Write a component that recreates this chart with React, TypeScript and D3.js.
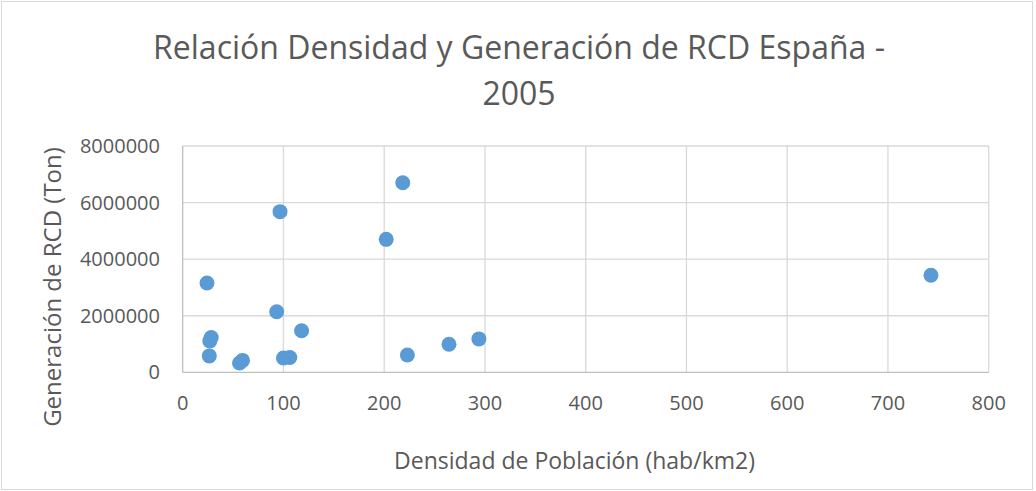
import { useRef, useEffect } from 'react';
import * as d3 from 'd3';

const W = 1036;
const H = 491;
const PLOT = { left: 182.7, right: 988.7, top: 146, bottom: 372.3 };

const TITLE_LINES = ['Relación Densidad y Generación de RCD España -', '2005'];
const X_LABEL = 'Densidad de Población (hab/km2)';
const Y_LABEL = 'Generación de RCD (Ton)';

// densidad (hab/km2) y generación (t) por comunidad
const densidad = [24.1, 93.3, 118, 26.9, 28.3, 26.4, 56.4, 59.4, 100, 106.3, 96.6, 218.4, 202, 223, 264.3, 294, 742.7];
const generacion = [3156000, 2140000, 1470000, 1110000, 1230000, 580000, 330000, 420000, 505000, 523000, 5680000, 6700000, 4700000, 610000, 990000, 1180000, 3430000];

const xTicks = [0, 100, 200, 300, 400, 500, 600, 700, 800];
const yTicks = [0, 2000000, 4000000, 6000000, 8000000];

const FONT = '"Open Sans", "Noto Sans", sans-serif';
const TEXT = '#595959';

export default function App() {
  const svgRef = useRef<SVGSVGElement>(null);

  useEffect(() => {
    if (!svgRef.current) return;
    const svg = d3.select(svgRef.current);
    svg.selectAll('*').remove();

    const x = d3.scaleLinear().domain([0, 800]).range([PLOT.left, PLOT.right]);
    const y = d3.scaleLinear().domain([0, 8000000]).range([PLOT.bottom, PLOT.top]);

    svg.append('rect')
      .attr('x', 0).attr('y', 0).attr('width', W).attr('height', H).attr('fill', '#fff');
    svg.append('rect')
      .attr('x', 1.5).attr('y', 1.5).attr('width', 1031).attr('height', 488)
      .attr('fill', 'none').attr('stroke', '#d9d9d9');

    // Grid
    const grid = svg.append('g').attr('stroke', '#d9d9d9').attr('stroke-width', 1.3);
    xTicks.slice(1).forEach(t => {
      grid.append('line').attr('x1', x(t)).attr('x2', x(t)).attr('y1', PLOT.top).attr('y2', PLOT.bottom);
    });
    yTicks.slice(1).forEach(t => {
      grid.append('line').attr('x1', PLOT.left).attr('x2', PLOT.right).attr('y1', y(t)).attr('y2', y(t));
    });

    // Axis lines
    svg.append('line').attr('x1', PLOT.left).attr('x2', PLOT.right).attr('y1', PLOT.bottom).attr('y2', PLOT.bottom)
      .attr('stroke', '#bfbfbf').attr('stroke-width', 1.3);
    svg.append('line').attr('x1', PLOT.left).attr('x2', PLOT.left).attr('y1', PLOT.top).attr('y2', PLOT.bottom)
      .attr('stroke', '#bfbfbf').attr('stroke-width', 1.3);

    // Tick labels
    svg.append('g').selectAll('text').data(xTicks).join('text')
      .attr('x', d => x(d)).attr('y', 410)
      .attr('text-anchor', 'middle')
      .attr('fill', TEXT).style('font-family', FONT).style('font-size', '20px')
      .text(d => d);
    svg.append('g').selectAll('text').data(yTicks).join('text')
      .attr('x', 160).attr('y', d => y(d) + 7)
      .attr('text-anchor', 'end')
      .attr('fill', TEXT).style('font-family', FONT).style('font-size', '20px')
      .text(d => d);

    // Points
    svg.append('g').selectAll('circle').data(densidad).join('circle')
      .attr('cx', d => x(d)).attr('cy', (_, i) => y(generacion[i]))
      .attr('r', 7.5).attr('fill', '#5b9bd5');

    // Title
    TITLE_LINES.forEach((line, i) => {
      svg.append('text')
        .attr('x', 519).attr('y', 59 + i * 46)
        .attr('text-anchor', 'middle')
        .attr('fill', TEXT).style('font-family', FONT).style('font-size', '32px')
        .text(line);
    });

    // Axis titles
    svg.append('text')
      .attr('x', 574.5).attr('y', 469)
      .attr('text-anchor', 'middle')
      .attr('fill', TEXT).style('font-family', FONT).style('font-size', '23px')
      .text(X_LABEL);
    svg.append('text')
      .attr('transform', `translate(61,287) rotate(-90)`)
      .attr('text-anchor', 'middle')
      .attr('fill', TEXT).style('font-family', FONT).style('font-size', '24px')
      .text(Y_LABEL);
  }, []);

  return (
    <svg ref={svgRef} width={W} height={H} style={{ position: 'absolute', left: 0, top: 0, display: 'block' }} />
  );
}
